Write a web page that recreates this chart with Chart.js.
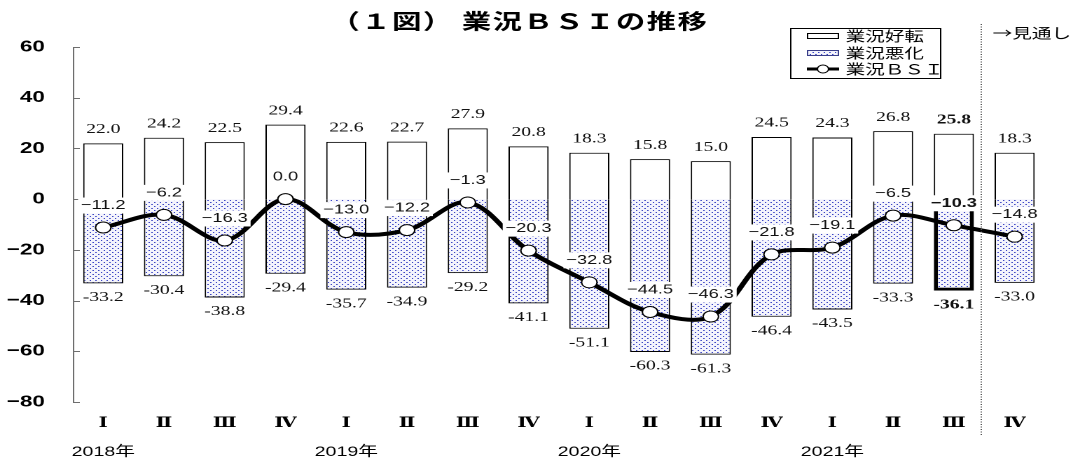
<!DOCTYPE html>
<html>
<head>
<meta charset="utf-8">
<script src="https://cdn.jsdelivr.net/npm/chart.js@4.4.0/dist/chart.umd.min.js"></script>
<style>
    body { margin: 0; background: #fff; overflow: hidden; }
    #wrap { width: 766px; height: 463px; transform: scaleX(1.4008); transform-origin: 0 0; }
</style>
</head>
<body>
<div id="wrap"><canvas id="c"></canvas></div>
<script>
const titleText = '（１図） 業況ＢＳＩの推移';
const quarters = ['Ⅰ', 'Ⅱ', 'Ⅲ', 'Ⅳ', 'Ⅰ', 'Ⅱ', 'Ⅲ', 'Ⅳ', 'Ⅰ', 'Ⅱ', 'Ⅲ', 'Ⅳ', 'Ⅰ', 'Ⅱ', 'Ⅲ', 'Ⅳ'];
const years = ['2018年', '2019年', '2020年', '2021年'];
const improved = [22.0, 24.2, 22.5, 29.4, 22.6, 22.7, 27.9, 20.8, 18.3, 15.8, 15.0, 24.5, 24.3, 26.8, 25.8, 18.3];
const worsened = [-33.2, -30.4, -38.8, -29.4, -35.7, -34.9, -29.2, -41.1, -51.1, -60.3, -61.3, -46.4, -43.5, -33.3, -36.1, -33.0];
const bsi = [-11.2, -6.2, -16.3, 0.0, -13.0, -12.2, -1.3, -20.3, -32.8, -44.5, -46.3, -21.8, -19.1, -6.5, -10.3, -14.8];
const yTicks = [60, 40, 20, 0, -20, -40, -60, -80];
const seriesNames = ['業況好転', '業況悪化', '業況ＢＳＩ'];
const forecastLabel = '→見通し';
const latestIndex = 14;

const SANS = '"Liberation Sans", Arial, "Noto Sans CJK JP", sans-serif';
const SERIF = '"Liberation Serif", "Times New Roman", "DejaVu Serif", serif';
const CJK = '"Noto Sans CJK JP", sans-serif';

const canvas = document.getElementById('c');
// dotted fill for the "worse" bars, tile drawn at device resolution
const dotTile = document.createElement('canvas');
dotTile.width = 8;
dotTile.height = 8;
const tctx = dotTile.getContext('2d');
tctx.fillStyle = '#f4f4fc';
tctx.fillRect(0, 0, 8, 8);
tctx.fillStyle = '#3c46c4';
tctx.fillRect(0, 0, 2, 2);
tctx.fillRect(4, 4, 2, 2);
const dots = canvas.getContext('2d').createPattern(dotTile, 'repeat');
dots.setTransform(new DOMMatrix().scale(0.5));

function minus(v) {
    return (v < 0 ? '−' : '') + Math.abs(v);
}

function fmtBsi(v) {
    return (v < 0 ? '−' : '') + Math.abs(v).toFixed(1);
}

const axisPlugin = {
    id: 'axisLine',
    beforeDatasetsDraw(chart) {
        const {ctx, chartArea: a, scales: {y}} = chart;
        ctx.save();
        ctx.strokeStyle = '#6e6e6e';
        ctx.lineWidth = 1;
        ctx.beginPath();
        ctx.moveTo(a.left + 0.5, a.top);
        ctx.lineTo(a.left + 0.5, a.bottom);
        yTicks.forEach(v => {
            const py = Math.round(y.getPixelForValue(v)) + 0.5;
            ctx.moveTo(a.left, py);
            ctx.lineTo(a.left + 5, py);
        });
        ctx.stroke();
        ctx.restore();
    }
};

const labelPlugin = {
    id: 'valueLabels',
    afterDatasetsDraw(chart) {
        const ctx = chart.ctx;
        const good = chart.getDatasetMeta(1).data;
        const bad = chart.getDatasetMeta(2).data;
        const pts = chart.getDatasetMeta(0).data;
        ctx.save();
        ctx.textAlign = 'center';
        ctx.textBaseline = 'middle';
        ctx.fillStyle = '#111';
        improved.forEach((v, i) => {
            ctx.font = (i === latestIndex ? 'bold ' : '') + '14px ' + SERIF;
            ctx.fillText(v.toFixed(1), good[i].x, good[i].y - 14);
        });
        worsened.forEach((v, i) => {
            ctx.font = (i === latestIndex ? 'bold ' : '') + '14px ' + SERIF;
            ctx.fillText(v.toFixed(1), bad[i].x, bad[i].y + 14);
        });
        bsi.forEach((v, i) => {
            const txt = fmtBsi(v);
            ctx.font = (i === latestIndex ? 'bold ' : '') + '13px ' + SANS;
            const w = ctx.measureText(txt).width;
            const cy = pts[i].y - 22;
            ctx.fillStyle = '#fff';
            ctx.fillRect(pts[i].x - w / 2 - 2, cy - 8, w + 4, 16);
            ctx.fillStyle = '#111';
            ctx.fillText(txt, pts[i].x, cy);
        });
        ctx.restore();
    }
};

const decorPlugin = {
    id: 'decor',
    afterDraw(chart) {
        const {ctx, scales: {x}} = chart;
        ctx.save();
        ctx.fillStyle = '#000';
        ctx.textBaseline = 'middle';
        ctx.textAlign = 'center';
        ctx.font = 'bold 21px ' + CJK;
        ctx.letterSpacing = '1px';
        ctx.fillText(titleText, 370.7, 21);
        ctx.letterSpacing = '0px';

        ctx.font = '14px ' + SANS;
        years.forEach((yr, k) => {
            ctx.fillText(yr, x.getPixelForValue(k * 4), 452);
        });

        // forecast divider
        const dx = Math.round(x.getPixelForValue(14.5) - 3) + 0.5;
        ctx.strokeStyle = '#555';
        ctx.lineWidth = 1;
        ctx.setLineDash([1, 1.5]);
        ctx.beginPath();
        ctx.moveTo(dx, 24);
        ctx.lineTo(dx, 436);
        ctx.stroke();
        ctx.setLineDash([]);

        ctx.textAlign = 'left';
        ctx.font = '14px ' + CJK;
        ctx.fillText(forecastLabel, 708.6, 33);

        // legend
        ctx.strokeStyle = '#000';
        ctx.lineWidth = 1;
        ctx.strokeRect(564.5, 28.5, 107, 50);
        const rows = [36, 53, 69];
        ctx.fillStyle = '#fff';
        ctx.fillRect(576, rows[0] - 3, 23, 6);
        ctx.strokeRect(576.5, rows[0] - 2.5, 22, 5);
        ctx.fillStyle = dots;
        ctx.fillRect(576, rows[1] - 3, 23, 6);
        ctx.strokeStyle = '#3a3f8a';
        ctx.strokeRect(576.5, rows[1] - 2.5, 22, 5);
        ctx.strokeStyle = '#000';
        ctx.lineWidth = 3;
        ctx.beginPath();
        ctx.moveTo(576, rows[2]);
        ctx.lineTo(599, rows[2]);
        ctx.stroke();
        ctx.lineWidth = 1;
        ctx.beginPath();
        ctx.arc(587.5, rows[2], 4, 0, Math.PI * 2);
        ctx.fillStyle = '#fff';
        ctx.fill();
        ctx.stroke();
        ctx.fillStyle = '#000';
        seriesNames.forEach((n, i) => ctx.fillText(n, 603.6, rows[i]));
        ctx.restore();
    }
};

new Chart(canvas, {
    type: 'bar',
    data: {
        labels: quarters,
        datasets: [
            {
                type: 'line',
                label: seriesNames[2],
                data: bsi,
                order: 0,
                borderColor: '#000',
                borderWidth: 4,
                tension: 0.35,
                pointRadius: 5.5,
                pointBackgroundColor: '#fff',
                pointBorderColor: '#000',
                pointBorderWidth: 1
            },
            {
                label: seriesNames[0],
                data: improved,
                order: 1,
                grouped: false,
                backgroundColor: '#fff',
                borderColor: '#000',
                borderWidth: 1,
                barPercentage: 0.66,
                categoryPercentage: 1
            },
            {
                label: seriesNames[1],
                data: worsened,
                order: 2,
                grouped: false,
                backgroundColor: dots,
                borderColor: '#000',
                borderWidth: worsened.map((v, i) => i === latestIndex ? 3 : 1),
                barPercentage: 0.66,
                categoryPercentage: 1
            }
        ]
    },
    options: {
        responsive: true,
        maintainAspectRatio: false,
        devicePixelRatio: 2,
        animation: false,
        layout: { padding: { top: 47, right: 20, left: 0, bottom: 0 } },
        plugins: {
            legend: { display: false },
            title: { display: false },
            tooltip: { enabled: false }
        },
        scales: {
            x: {
                grid: { display: false, drawTicks: false },
                border: { display: false },
                ticks: { color: '#000', padding: 13, font: { family: SERIF, size: 14, weight: 'bold' } },
                afterFit(s) { s.height = 61; }
            },
            y: {
                min: yTicks[yTicks.length - 1],
                max: yTicks[0],
                grid: { display: false, drawTicks: false },
                border: { display: false },
                ticks: {
                    stepSize: 20,
                    color: '#000',
                    padding: 20,
                    font: { family: SANS, size: 16, weight: 'bold' },
                    callback: v => minus(v)
                },
                afterFit(s) { s.width = 52; }
            }
        }
    },
    plugins: [axisPlugin, labelPlugin, decorPlugin]
});
</script>
</body>
</html>
